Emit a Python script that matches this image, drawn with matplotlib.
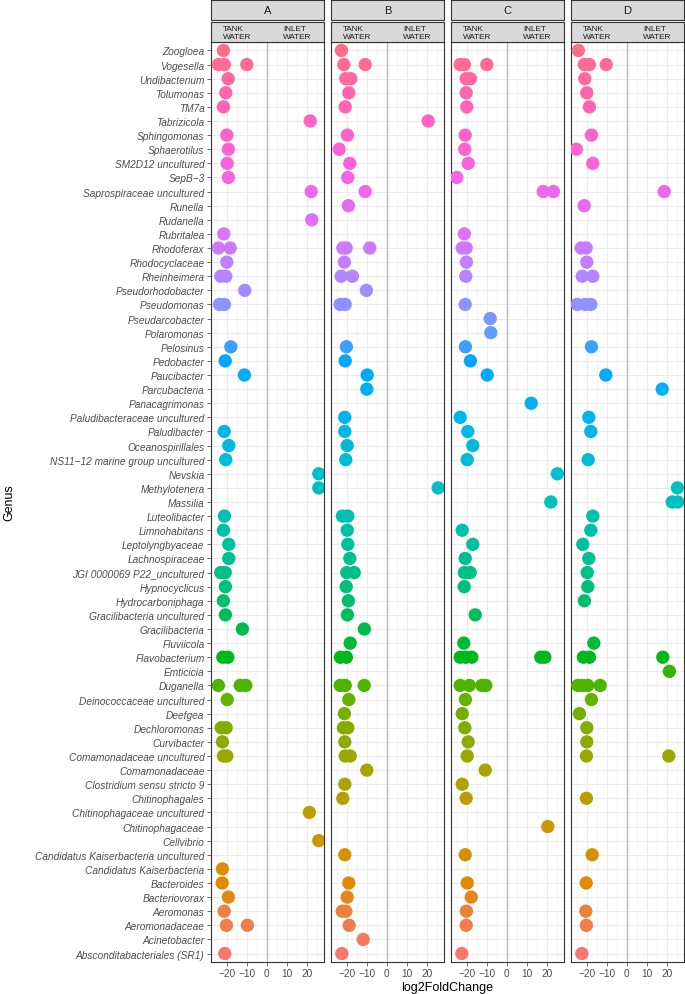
import math
import matplotlib
matplotlib.use("Agg")
import matplotlib.pyplot as plt

# ---------------- data (top row first) ----------------
genera = [
    "Zoogloea", "Vogesella", "Undibacterium", "Tolumonas", "TM7a", "Tabrizicola",
    "Sphingomonas", "Sphaerotilus", "SM2D12 uncultured", "SepB\u22123",
    "Saprospiraceae uncultured", "Runella", "Rudanella", "Rubritalea", "Rhodoferax",
    "Rhodocyclaceae", "Rheinheimera", "Pseudorhodobacter", "Pseudomonas",
    "Pseudarcobacter", "Polaromonas", "Pelosinus", "Pedobacter", "Paucibacter",
    "Parcubacteria", "Panacagrimonas", "Paludibacteraceae uncultured", "Paludibacter",
    "Oceanospirillales", "NS11\u221212 marine group uncultured", "Nevskia",
    "Methylotenera", "Massilia", "Luteolibacter", "Limnohabitans", "Leptolyngbyaceae",
    "Lachnospiraceae", "JGI 0000069 P22_uncultured", "Hypnocyclicus",
    "Hydrocarboniphaga", "Gracilibacteria uncultured", "Gracilibacteria", "Fluviicola",
    "Flavobacterium", "Emticicia", "Duganella", "Deinococcaceae uncultured", "Deefgea",
    "Dechloromonas", "Curvibacter", "Comamonadaceae uncultured", "Comamonadaceae",
    "Clostridium sensu stricto 9", "Chitinophagales", "Chitinophagaceae uncultured",
    "Chitinophagaceae", "Cellvibrio", "Candidatus Kaiserbacteria uncultured",
    "Candidatus Kaiserbacteria", "Bacteroides", "Bacteriovorax", "Aeromonas",
    "Aeromonadaceae", "Acinetobacter", "Absconditabacteriales (SR1)",
]

panels = ["A", "B", "C", "D"]

vals_A = [
    [-21.7], [-24.2, -21.2, -10], [-19.3], [-20.5], [-21.7], [21.7],
    [-20], [-19.2], [-19.8], [-19.2],
    [22.2], [], [22.5], [-21.5], [-24.2, -18.3],
    [-20], [-23, -20.5], [-11], [-23.7, -21.2],
    [], [], [-18], [-20.8], [-11.2],
    [], [], [], [-21.3],
    [-19], [-20.5], [26],
    [26], [], [-21.2], [-21.7], [-19],
    [-19], [-23, -20.8], [-20.7],
    [-21.7], [-20.7], [-12.2], [],
    [-22, -19.5], [], [-24.2, -13.3, -10.5], [-19.8], [],
    [-22.8, -20.3], [-22.2], [-21.7, -20], [],
    [], [], [21.3],
    [], [26], [],
    [-22.2], [-22.3], [-19.2], [-21.3],
    [-20.2, -9.7], [], [-21],
]

vals_B = [
    [-22.7], [-21.5, -10.8], [-20.5, -18], [-19], [-20.8], [20.7],
    [-19.7], [-23.8], [-18.5], [-19.5],
    [-10.8], [-19.2], [], [], [-22, -20.3, -8.5],
    [-21.2], [-22.8, -17.2], [-10.2], [-23.3, -20.8],
    [], [], [-20.2], [-20.8], [-9.8],
    [-10], [], [-21], [-21],
    [-19.8], [-20.5], [],
    [25.7], [], [-22.2, -19.5], [-19.8], [-19.5],
    [-18.5], [-20, -16.3], [-20.3],
    [-19.2], [-19.7], [-11.2], [-18.3],
    [-23.2, -20.2], [], [-23.3, -20.8, -11.3], [-19], [-21.2],
    [-21.7, -19.5], [-21], [-20.8, -18.3], [-10],
    [-21], [-22], [],
    [], [], [-21],
    [], [-19], [-19.8], [-22.3, -20.5],
    [-18.8], [-11.8], [-22.5],
]

vals_C = [
    [], [-23.3, -21.2, -10], [-20.3, -18.2], [-20.3], [-20], [],
    [-20.8], [-21], [-19.3], [-25],
    [18.2, 23.3], [], [], [-21.2], [-22.3, -20.3],
    [-20.2], [-20.5], [], [-20.8],
    [-8.3], [-8], [-20.7], [-18.2], [-9.8],
    [], [12.2], [-23.3], [-19.5],
    [-17], [-19.8], [25.3],
    [], [22], [], [-22.3], [-17],
    [-20.8], [-21.2, -18.3], [-21.3],
    [], [-15.8], [], [-21.5],
    [-23.3, -20.5, -17.5, 17, 19], [], [-23.3, -18.7, -12.5, -10.5], [-20.7], [-22.3],
    [-21], [-19.3], [-19.8], [-10.8],
    [-22.3], [-20.3], [],
    [20.5], [], [-20.8],
    [], [-19.8], [-17.8], [-20.2],
    [-20.3], [], [-22.5],
]

vals_D = [
    [-24.2], [-21.2, -18.7, -10.3], [-21], [-20], [-18.7], [],
    [-17.7], [-25.2], [-17], [],
    [18.7], [-21.3], [], [], [-22.8, -20.3],
    [-20], [-22.3, -17], [], [-24.8, -20.8, -18],
    [], [], [-17.7], [], [-10.5],
    [17.7], [], [-19], [-18],
    [], [-19.3], [],
    [25.3], [22.7, 25.5], [-17], [-18], [-22],
    [-19], [-19.8], [-19.5],
    [-21.2], [], [], [-16.5],
    [-21.7, -18.7, 18], [21.3], [-24.5, -22, -19.5, -13.3], [-17.7], [-23.7],
    [-20], [-20], [-20.2, 21], [],
    [], [-20.2], [],
    [], [], [-17.3],
    [], [-20.3], [], [-20.5],
    [-20.2], [], [-22.5],
]

panel_values = [vals_A, vals_B, vals_C, vals_D]
x_ticks = [-20, -10, 0, 10, 20]
x_minor = [-25, -15, -5, 5, 15, 25]
group_labels = ["TANK\nWATER", "INLET\nWATER"]


# ---------------- ggplot-like hue palette ----------------
def hcl(h, c=100.0, l=65.0):
    hr = math.radians(h)
    U = c * math.cos(hr)
    V = c * math.sin(hr)
    Xn, Yn, Zn = 95.047, 100.0, 108.883
    Y = Yn * ((l + 16) / 116.0) ** 3
    t = Xn + 15 * Yn + 3 * Zn
    un, vn = 4 * Xn / t, 9 * Yn / t
    u = U / (13 * l) + un
    v = V / (13 * l) + vn
    X = 9.0 * Y * u / (4 * v)
    Z = -X / 3 - 5 * Y + 3 * Y / v
    X, Y, Z = X / 100, Y / 100, Z / 100
    r = 3.240479 * X - 1.537150 * Y - 0.498535 * Z
    g = -0.969256 * X + 1.875992 * Y + 0.041556 * Z
    b = 0.055648 * X - 0.204043 * Y + 1.057311 * Z

    def gam(x):
        x = 12.92 * x if x <= 0.0031308 else 1.055 * x ** (1 / 2.4) - 0.055
        return min(1.0, max(0.0, x))
    return (gam(r), gam(g), gam(b))


n = len(genera)
n_levels = 66
colors = []
for row in range(n):
    level = n - row  # alphabetical level (1 = bottom)
    colors.append(hcl(15 + (level - 1) * 360.0 / n_levels))

# ---------------- figure ----------------
W, H = 685, 995
fig = plt.figure(figsize=(W / 100, H / 100), dpi=100)
plt.rcParams['font.family'] = ['Liberation Sans', 'DejaVu Sans']

panel_left0 = 211
panel_w = 113
panel_gap = 120
panel_top = 43
panel_bot = 963

ypos = [n - i for i in range(n)]

for k, (pname, vals) in enumerate(zip(panels, panel_values)):
    left = panel_left0 + k * panel_gap
    ax = fig.add_axes([left / W, (H - panel_bot) / H, panel_w / W, (panel_bot - panel_top) / H])
    ax.set_xlim(-27.9, 28.6)
    ax.set_ylim(0.4, n + 0.6)
    ax.set_facecolor("white")
    for xm in x_minor:
        ax.axvline(xm, color="#F0F0F0", lw=0.45, zorder=0)
    for xt in x_ticks:
        ax.axvline(xt, color="#EBEBEB", lw=0.8, zorder=0)
    for yv in ypos:
        ax.axhline(yv, color="#EBEBEB", lw=0.8, zorder=0)
    ax.axvline(0, color="#BEBEBE", lw=1.0, zorder=1)

    xs, ys, cs = [], [], []
    for i, lst in enumerate(vals):
        for v in lst:
            xs.append(v)
            ys.append(ypos[i])
            cs.append(colors[i])
    ax.scatter(xs, ys, s=92, c=cs, linewidths=0, zorder=3)

    ax.set_xticks(x_ticks)
    ax.set_xticklabels([str(t).replace("-", "\u2212") for t in x_ticks])
    ax.tick_params(axis="x", length=2.7, width=0.5, color="#333333", pad=1.5,
                   labelsize=7.3, labelcolor="#4D4D4D")
    ax.set_yticks(ypos)
    if k == 0:
        ax.set_yticklabels(genera, fontstyle="italic")
        ax.tick_params(axis="y", length=2.7, width=0.5, color="#333333", pad=2,
                       labelsize=7.3, labelcolor="#4D4D4D")
    else:
        ax.set_yticklabels([])
        ax.tick_params(axis="y", length=0)
    for sp in ax.spines.values():
        sp.set_color("#333333")
        sp.set_linewidth(0.8)

    # strips
    s1 = fig.add_axes([left / W, (H - 20.5) / H, panel_w / W, 19.5 / H])
    s2 = fig.add_axes([left / W, (H - 42.7) / H, panel_w / W, 20.0 / H])
    for s in (s1, s2):
        s.set_facecolor("#D9D9D9")
        s.set_xticks([])
        s.set_yticks([])
        for sp in s.spines.values():
            sp.set_color("#333333")
            sp.set_linewidth(0.8)
    s1.text(0.5, 0.48, pname, ha="center", va="center", fontsize=8, color="#1A1A1A",
            transform=s1.transAxes)
    s2.text(0.23, 0.47, group_labels[0], ha="center", va="center", fontsize=5.9,
            color="#1A1A1A", multialignment="left", linespacing=1.22, transform=s2.transAxes)
    s2.text(0.765, 0.47, group_labels[1], ha="center", va="center", fontsize=5.9,
            color="#1A1A1A", multialignment="left", linespacing=1.22, transform=s2.transAxes)

fig.text((panel_left0 + (3 * panel_gap + panel_w) / 2) / W, 1 - 988 / H, "log2FoldChange",
         ha="center", va="center", fontsize=9, color="black")
fig.text(9 / W, 1 - ((panel_top + panel_bot) / 2) / H, "Genus", rotation=90,
         ha="center", va="center", fontsize=9, color="black")

fig.savefig("out.png", dpi=100, facecolor="white")
